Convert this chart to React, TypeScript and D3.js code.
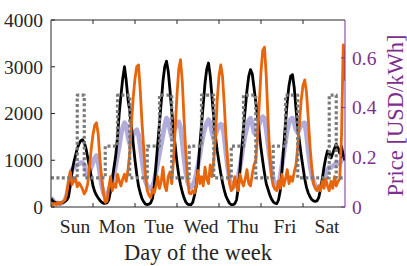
import React from 'react';
import * as d3 from 'd3';

// hourly values, Sunday 00:00 (index 0) to Saturday 24:00 (index 168)
const days = ['Sun', 'Mon', 'Tue', 'Wed', 'Thu', 'Fri', 'Sat'];
const demandTicks = [0, 1000, 2000, 3000, 4000];
const priceTicks = [0, 0.2, 0.4, 0.6];

const baseLoad = [
  180, 130, 100, 90, 80, 80, 90, 100, 120, 150, 220, 450, 750, 950, 1100, 1250, 1350, 1420, 1440, 1380, 1250, 1050, 850, 650, 450, 330, 250, 190, 140, 100, 80,
  80, 90, 150, 330, 580, 850, 1100, 1500, 2000, 2400, 2750, 3000, 2700, 2300, 2050, 1700, 1350, 1000, 700, 450, 300, 180, 110, 60, 50,
  60, 90, 180, 450, 900, 1350, 1800, 2250, 2700, 3000, 3120, 2900, 2500, 2050, 1650, 1300, 950, 680, 480, 320, 200, 110, 60, 50,
  50, 100, 250, 450, 800, 1300, 1750, 2200, 2650, 2950, 3080, 2800, 2350, 1900, 1500, 1200, 950, 720, 520, 360, 230, 150, 80, 50,
  50, 70, 150, 400, 800, 1250, 1700, 2100, 2500, 2800, 2940, 2850, 2550, 2250, 1950, 1600, 1250, 980, 720, 500, 380, 260, 170, 110, 80,
  70, 150, 350, 800, 1300, 1800, 2250, 2600, 2800, 2830, 2550, 2100, 1700, 1400, 1100, 850, 600, 420, 300, 220, 160, 130, 120, 130,
  200, 380, 600, 850, 1050, 1200, 1150, 1050, 1150, 1250, 1350, 1250, 1150, 1300, 1100, 1000,
];

const shifted = [
  60, 40, 80, 50, 100, 60, 90, 120, 150, 300, 550, 760, 480, 550, 620, 430, 520, 460, 380, 280, 350, 500, 850, 1250, 1550, 1750, 1800, 1550, 1000, 600, 300,
  100, 120, 400, 650, 350, 500, 420, 700, 550, 450, 600, 700, 550, 800, 1150, 1800, 2350, 2750, 3000, 3040, 2500, 1800, 1250, 650, 350,
  250, 200, 380, 300, 450, 650, 400, 550, 850, 450, 350, 650, 750, 500, 1000, 1700, 2400, 2950, 3150, 2700, 1900, 1200, 600, 300,
  280, 350, 300, 450, 780, 500, 650, 450, 850, 600, 500, 900, 650, 1000, 1500, 2300, 2800, 3040, 2800, 2200, 1500, 950, 500, 350,
  400, 650, 450, 350, 700, 550, 450, 600, 800, 500, 450, 700, 900, 1000, 1500, 2200, 2900, 3350, 3420, 2800, 1900, 1100, 650, 450, 380,
  350, 550, 400, 700, 450, 600, 800, 500, 650, 550, 750, 900, 1300, 1800, 2300, 2600, 2720, 2450, 1900, 1300, 850, 500, 400, 350,
  450, 350, 550, 400, 600, 450, 350, 550, 400, 650, 450, 550, 600, 1500, 3470, 2700,
];

const smoothed = [
  200, 150, 100, 80, 80, 70, 80, 100, 150, 250, 450, 650, 800, 850, 880, 900, 920, 950, 950, 900, 800, 700, 750, 850, 950, 1050, 1100, 950, 700, 450, 300, 230,
  250, 350, 450, 550, 700, 900, 1100, 1300, 1550, 1700, 1800, 1750, 1500, 1350, 1400, 1550, 1620, 1650, 1550, 1300, 1000, 750, 550, 450,
  400, 380, 450, 550, 750, 950, 1150, 1350, 1550, 1750, 1900, 1850, 1650, 1500, 1600, 1700, 1780, 1820, 1700, 1400, 1050, 750, 550, 450,
  420, 450, 550, 700, 900, 1100, 1350, 1550, 1700, 1800, 1870, 1800, 1600, 1450, 1550, 1650, 1730, 1770, 1750, 1500, 1150, 850, 600, 480,
  420, 450, 520, 650, 850, 1100, 1350, 1550, 1700, 1850, 1900, 1800, 1600, 1550, 1650, 1780, 1880, 1930, 1900, 1650, 1350, 1050, 800, 600, 480,
  420, 480, 650, 900, 1150, 1400, 1650, 1800, 1880, 1900, 1800, 1650, 1600, 1680, 1750, 1790, 1800, 1550, 1200, 900, 680, 550, 450, 420,
  420, 450, 500, 600, 700, 800, 850, 850, 880, 900, 950, 950, 920, 1000, 1050, 1000,
];

// time-of-use price steps (hour where each level starts)
const OFF = 0.117;
const MID = 0.245;
const PEAK = 0.45;
const priceHours = [0, 15, 19, 31, 38, 45, 55, 62, 69, 79, 86, 93, 103, 110, 117, 127, 134, 141, 159, 163, 168];
const priceValues = [OFF, PEAK, OFF, MID, PEAK, OFF, MID, PEAK, OFF, MID, PEAK, OFF, MID, PEAK, OFF, MID, PEAK, OFF, PEAK, OFF, OFF];

const W = 407;
const H = 266;
const L = 51;
const R = 345;
const T = 20;
const B = 207;
const axisColor = '#262626';
const purple = '#7e2f8e';
const font = '"Liberation Serif", "Times New Roman", serif';

export default function App() {
  const x = d3.scaleLinear().domain([0, 168]).range([L, R]);
  const y = d3.scaleLinear().domain([0, 4000]).range([B, T]);
  const yp = d3.scaleLinear().domain([0, 0.7525]).range([B, T]);

  const line = d3
    .line<number>()
    .x((_, i) => x(i))
    .y((d) => y(d));

  const step = d3
    .line<number>()
    .x((_, i) => x(priceHours[i]))
    .y((d) => yp(d))
    .curve(d3.curveStepAfter);

  const dayBounds = d3.range(1, 7).map((d) => d * 24);

  return (
    <svg width={W} height={H} style={{ position: 'absolute', left: 0, top: 0 }} fontFamily={font}>
      <defs>
        <clipPath id="plot">
          <rect x={L} y={T} width={R - L} height={B - T} />
        </clipPath>
      </defs>

      <g clipPath="url(#plot)" fill="none" strokeLinejoin="round">
        <path d={line(smoothed) as string} stroke="#a59dd3" strokeWidth={4.8} opacity={0.85} />
        <path d={line(baseLoad) as string} stroke="#000" strokeWidth={2.8} />
        <path d={line(shifted) as string} stroke="#e8650c" strokeWidth={2.8} />
        <path d={step(priceValues) as string} stroke="#7a7a7a" strokeWidth={3.2} strokeDasharray="3 2.4" />
      </g>

      {/* frame */}
      <line x1={L} x2={R} y1={T} y2={T} stroke={axisColor} strokeWidth={1} />
      <line x1={L} x2={R} y1={B} y2={B} stroke={axisColor} strokeWidth={1} />
      <line x1={L} x2={L} y1={T} y2={B} stroke={axisColor} strokeWidth={1} />
      <line x1={R} x2={R} y1={T} y2={B} stroke={purple} strokeWidth={1} />

      {/* day ticks, top and bottom */}
      {dayBounds.map((h) => (
        <g key={h} stroke={axisColor} strokeWidth={1}>
          <line x1={x(h)} x2={x(h)} y1={T} y2={T + 4} />
          <line x1={x(h)} x2={x(h)} y1={B} y2={B - 4} />
        </g>
      ))}
      {days.map((d, i) => (
        <text key={d} x={x(i * 24 + 12) + 3} y={233} textAnchor="middle" fontSize={19.5} fill={axisColor}>
          {d}
        </text>
      ))}

      {/* left axis */}
      {demandTicks.map((v) => (
        <g key={v}>
          <line x1={L} x2={L + 4} y1={y(v)} y2={y(v)} stroke={axisColor} strokeWidth={1} />
          <text x={L - 8} y={y(v)} dy="0.35em" textAnchor="end" fontSize={19.5} fill={axisColor}>
            {v}
          </text>
        </g>
      ))}

      {/* right axis */}
      {priceTicks.map((v) => (
        <g key={v}>
          <line x1={R} x2={R - 4} y1={yp(v)} y2={yp(v)} stroke={purple} strokeWidth={1} />
          <text x={R + 7} y={yp(v)} dy="0.35em" textAnchor="start" fontSize={19.5} fill={purple}>
            {v === 0 ? '0' : v.toFixed(1)}
          </text>
        </g>
      ))}

      <text x={(L + R) / 2} y={260} textAnchor="middle" fontSize={22.5} fill={axisColor}>
        Day of the week
      </text>
      <text
        transform={`translate(403, ${(T + B) / 2 + 2}) rotate(-90)`}
        textAnchor="middle"
        fontSize={22.5}
        fill={purple}
      >
        Price [USD/kWh]
      </text>
    </svg>
  );
}
